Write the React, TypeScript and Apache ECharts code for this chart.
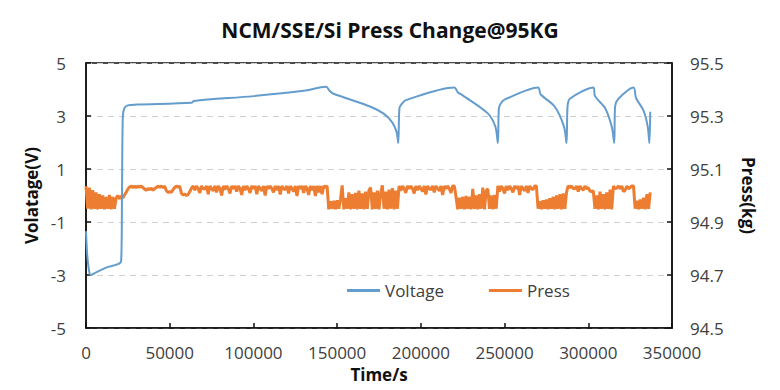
import React, { useEffect, useRef } from "react";
import * as echarts from "echarts";

const titleText = "NCM/SSE/Si Press Change@95KG";
const xTicks = [0, 50000, 100000, 150000, 200000, 250000, 300000, 350000];
const voltTicks = [-5, -3, -1, 1, 3, 5];
const pressTicks = [94.5, 94.7, 94.9, 95.1, 95.3, 95.5];

const voltTime = [
  0, 800, 2000, 3000, 6000, 12000, 21000, 21500, 22000, 23000, 25000, 30000,
  63000, 64500, 100000, 130000, 143500, 145500, 147500, 170000, 178000, 183000,
  185500, 186500, 187200, 188500, 191000, 220000, 222000, 225000, 240000,
  244500, 246000, 246600, 248000, 250000, 270000, 271500, 280000, 285500,
  287000, 287600, 289000, 303000, 304000, 310000, 314000, 315500, 316000,
  318000, 327000, 328500, 333000, 335500, 336500, 337000,
];
const voltValue = [
  -1.35, -2.3, -2.9, -3.0, -2.9, -2.72, -2.47, 0, 3.0, 3.3, 3.4, 3.43,
  3.5, 3.57, 3.75, 3.95, 4.1, 3.95, 3.85, 3.35, 3.08, 2.75,
  2.4, 1.98, 3.3, 3.45, 3.6, 4.08, 3.9, 3.78, 3.1,
  2.6, 1.98, 3.3, 3.5, 3.62, 4.08, 3.82, 3.35, 2.6,
  1.98, 3.35, 3.65, 4.08, 3.75, 3.3, 2.6, 1.98, 3.35,
  3.65, 4.08, 3.68, 3.2, 2.6, 1.98, 3.16,
];

const pressStep = 1000;
const pressValue = [
  95.035, 94.95, 95.03, 94.948, 95.02, 94.95, 95.012, 94.948, 95.005, 94.95,
  95.0, 94.948, 94.995, 94.95, 95.002, 94.948, 94.995, 94.95, 94.99, 95.0,
  94.988, 94.998, 94.99, 95.002, 95.012, 95.024, 95.032, 95.035, 95.03, 95.035,
  95.03, 95.035, 95.032, 95.035, 95.03, 95.024, 95.02, 95.026, 95.022, 95.028,
  95.02, 95.026, 95.03, 95.035, 95.032, 95.035, 95.03, 95.035, 95.018, 95.012,
  95.015, 95.012, 95.022, 95.03, 95.035, 95.032, 95.035, 95.008, 95.002, 95.005,
  95.0, 95.004, 95.015, 95.028, 95.036, 95.02, 95.036, 95.026, 95.01, 95.036,
  95.026, 95.024, 95.036, 95.005, 95.036, 95.026, 95.018, 95.036, 95.012, 95.036,
  95.026, 95.0, 95.036, 95.022, 95.036, 95.026, 95.008, 95.036, 95.025, 95.036,
  95.015, 95.036, 95.026, 95.002, 95.036, 95.02, 95.036, 95.026, 95.01, 95.036,
  95.026, 95.036, 95.005, 95.036, 95.026, 95.018, 95.036, 95.0, 95.036, 95.025,
  95.036, 95.026, 95.012, 95.036, 95.02, 95.036, 95.004, 95.036, 95.026, 95.022,
  95.036, 95.008, 95.036, 95.026, 95.015, 95.036, 94.998, 95.036, 95.025, 95.036,
  95.01, 95.036, 95.026, 95.002, 95.036, 95.02, 95.036, 94.998, 95.036, 95.012,
  95.036, 95.005, 95.036, 95.03, 95.036, 94.948, 94.978, 94.95, 94.98, 94.948,
  94.982, 94.95, 94.985, 95.038, 94.948, 94.99, 94.95, 95.012, 94.948, 95.005,
  94.95, 95.01, 94.948, 95.018, 94.95, 95.008, 94.948, 95.015, 94.95, 95.02,
  95.03, 94.948, 95.012, 94.95, 95.018, 94.948, 95.01, 95.038, 94.95, 95.015,
  94.948, 95.022, 94.95, 95.028, 94.948, 95.018, 94.95, 95.036, 95.018, 95.036,
  95.026, 95.01, 95.036, 95.025, 95.036, 95.026, 95.008, 95.036, 95.02, 95.036,
  95.026, 95.015, 95.036, 95.004, 95.036, 95.026, 95.022, 95.036, 95.012, 95.036,
  95.026, 95.018, 95.036, 95.002, 95.036, 95.025, 95.036, 95.026, 95.01, 95.036,
  95.036, 94.995, 94.948, 94.992, 94.95, 94.995, 94.948, 94.998, 94.95, 94.995,
  94.948, 95.025, 94.95, 95.0, 94.948, 95.005, 94.95, 95.03, 94.948, 95.018,
  95.025, 94.95, 95.0, 94.948, 95.002, 94.95, 95.036, 95.015, 95.036, 95.026,
  95.008, 95.036, 95.02, 95.036, 95.026, 95.012, 95.036, 95.025, 95.036, 95.002,
  95.036, 95.026, 95.018, 95.036, 95.01, 95.036, 95.026, 95.022, 95.036, 95.036,
  94.95, 94.978, 94.948, 94.982, 94.95, 94.985, 94.948, 94.99, 94.95, 94.995,
  94.948, 95.0, 94.95, 95.005, 94.948, 95.008, 94.95, 95.012, 95.036, 95.03,
  95.036, 95.026, 95.025, 95.036, 95.015, 95.036, 95.026, 95.02, 95.036, 95.026,
  95.03, 95.017, 95.015, 95.017, 94.95, 95.0, 94.948, 95.015, 94.95, 95.005,
  94.948, 95.012, 94.95, 95.022, 94.948, 95.036, 95.026, 95.028, 95.036, 95.026,
  95.036, 95.015, 95.02, 95.036, 95.026, 95.03, 95.036, 95.036, 94.95, 94.98,
  94.948, 94.985, 94.95, 94.992, 94.948, 95.005, 94.95, 95.012,
];

const FONT = "'Open Sans', 'Liberation Sans', sans-serif";
const TXT = "#404040";

export default function App() {
  const ref = useRef<HTMLDivElement>(null);
  useEffect(() => {
    document.body.style.margin = "0";
    if (!ref.current) return;
    const chart = echarts.init(ref.current, undefined, { renderer: "svg" });
    const voltData = voltTime.map((t, i) => [t, voltValue[i]]);
    const pressData = pressValue.map((v, i) => [i * pressStep, v]);
    chart.setOption({
      animation: false,
      backgroundColor: "#fff",
      textStyle: { fontFamily: FONT },
      title: {
        text: titleText,
        left: "center",
        top: 14,
        textStyle: { fontFamily: FONT, fontSize: 21, fontWeight: "bold", color: "#111" },
      },
      legend: {
        left: 342,
        top: 277,
        icon: "rect",
        itemWidth: 33,
        itemHeight: 3,
        itemGap: 45,
        textStyle: { fontFamily: FONT, fontSize: 17, color: TXT },
        data: ["Voltage", "Press"],
      },
      grid: {
        left: 86,
        right: 108,
        top: 63,
        bottom: 62,
        show: true,
        containLabel: false,
        outerBoundsMode: "none",
        borderColor: "#111",
        borderWidth: 1.5,
      },
      xAxis: {
        type: "value",
        min: xTicks[0],
        max: xTicks[xTicks.length - 1],
        interval: 50000,
        name: "Time/s",
        nameLocation: "middle",
        nameGap: 38,
        nameTextStyle: { fontFamily: FONT, fontSize: 17, fontWeight: "bold", color: "#111" },
        axisLine: { onZero: false, lineStyle: { color: "#111", width: 1.5 } },
        axisTick: { inside: true, length: 5, lineStyle: { color: "#111", width: 1.5 } },
        axisLabel: {
          margin: 16,
          fontFamily: FONT,
          fontSize: 17,
          color: TXT,
          formatter: (v: number) => String(v),
        },
        splitLine: { show: false },
      },
      yAxis: [
        {
          type: "value",
          min: -5,
          max: 5,
          name: "Volatage(V)",
          nameLocation: "middle",
          nameGap: 46,
          nameRotate: 90,
          nameTextStyle: { fontFamily: FONT, fontSize: 17, fontWeight: "bold", color: "#111" },
          axisLine: { show: true, onZero: false, lineStyle: { color: "#111", width: 1.5 } },
          axisTick: { show: true, inside: true, length: 5, customValues: voltTicks, lineStyle: { color: "#111", width: 1.5 } },
          axisLabel: { margin: 20, fontFamily: FONT, fontSize: 17, color: TXT, customValues: voltTicks, showMinLabel: true, showMaxLabel: true },
          splitLine: { show: true, lineStyle: { color: "#d0d0d0", type: [6, 5], width: 1 } },
        },
        {
          type: "value",
          min: 94.5,
          max: 95.5,
          name: "Press(kg)",
          nameLocation: "middle",
          nameGap: 68,
          nameRotate: -90,
          nameTextStyle: { fontFamily: FONT, fontSize: 17, fontWeight: "bold", color: "#111" },
          axisLine: { show: true, onZero: false, lineStyle: { color: "#111", width: 1.5 } },
          axisTick: { show: true, inside: true, length: 5, customValues: pressTicks, lineStyle: { color: "#111", width: 1.5 } },
          axisLabel: {
            margin: 18,
            fontFamily: FONT,
            fontSize: 17,
            color: TXT,
            customValues: pressTicks,
            formatter: (v: number) => v.toFixed(1),
          },
          splitLine: { show: false },
        },
      ],
      series: [
        {
          name: "Voltage",
          type: "line",
          yAxisIndex: 0,
          data: voltData,
          symbol: "none",
          smooth: 0.3,
          lineStyle: { color: "#649dcd", width: 2 },
          itemStyle: { color: "#649dcd" },
          z: 3,
        },
        {
          name: "Press",
          type: "line",
          yAxisIndex: 1,
          data: pressData,
          symbol: "none",
          lineStyle: { color: "#ED7D31", width: 3 },
          itemStyle: { color: "#ED7D31" },
          z: 2,
        },
      ],
    });
    return () => chart.dispose();
  }, []);
  return <div ref={ref} style={{ width: 780, height: 390 }} />;
}
